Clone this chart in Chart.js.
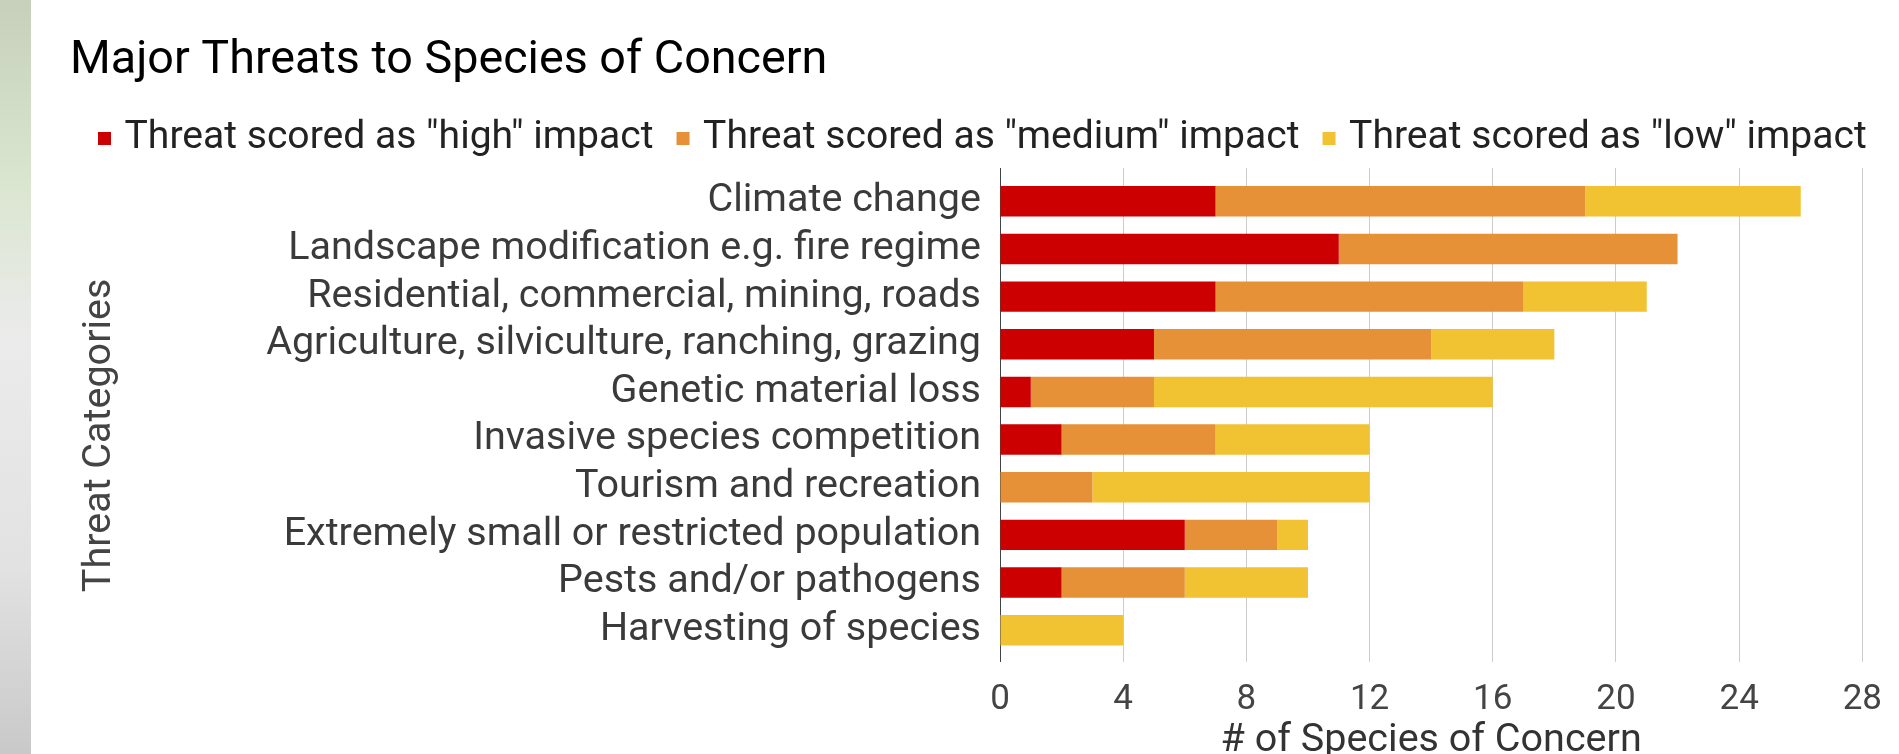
<!DOCTYPE html>
<html>
<head>
<meta charset="utf-8">
<script src="https://cdn.jsdelivr.net/npm/chart.js@4.4.1/dist/chart.umd.min.js"></script>
<style>
    body{ margin:0; background:#fff; }
    #wrap{ position:relative; width:1899px; height:754px; }
    #strip{
        position:absolute; left:0; top:0; width:31px; height:754px;
        background:linear-gradient(to bottom,#c6d0ba 0%,#dbe6d1 25%,#ebebeb 45%,#e2e2e2 75%,#c9c9c9 100%);
    }
</style>
</head>
<body>
<div id="wrap">
    <canvas id="chart" width="1899" height="754"></canvas>
    <div id="strip"></div>
</div>
<script>
// data
var categories = [
    "Climate change",
    "Landscape modification e.g. fire regime",
    "Residential, commercial, mining, roads",
    "Agriculture, silviculture, ranching, grazing",
    "Genetic material loss",
    "Invasive species competition",
    "Tourism and recreation",
    "Extremely small or restricted population",
    "Pests and/or pathogens",
    "Harvesting of species"
];
var highVals   = [7, 11, 7, 5, 1, 2, 0, 6, 2, 0];
var mediumVals = [12, 11, 10, 9, 4, 5, 3, 3, 4, 0];
var lowVals    = [7, 0, 4, 4, 11, 5, 9, 1, 4, 4];
var seriesNames = ['Threat scored as "high" impact', 'Threat scored as "medium" impact', 'Threat scored as "low" impact'];
var xMin = 0, xMax = 28, xStep = 4;

Chart.defaults.font.family = "Roboto";

var gridColor = function(c){ return (c.tick && c.tick.value === 0) ? "#444" : "#cccccc"; };

// move title / legend to where they sit in the picture
var nudge = {
    id: "nudge",
    afterLayout: function(chart){
        var t = chart.titleBlock;
        var dx = 70 - t.left;
        t.left += dx; t.right += dx;
        var l = chart.legend;
        var dl = 104 - (l.left + l.options.labels.padding);
        l.left += dl; l.right += dl;
    }
};

var graph = new Chart(document.getElementById("chart"), {
    type: "bar",
    data: {
        labels: categories,
        datasets: [
            { label: seriesNames[0], data: highVals,   backgroundColor: "#cc0000", borderWidth: 0 },
            { label: seriesNames[1], data: mediumVals, backgroundColor: "#e69138", borderWidth: 0 },
            { label: seriesNames[2], data: lowVals,    backgroundColor: "#f1c232", borderWidth: 0 }
        ]
    },
    options: {
        indexAxis: "y",
        responsive: false,
        animation: false,
        categoryPercentage: 1,
        barPercentage: 0.64,
        layout: { padding: { left: 0, right: 30, top: 0, bottom: 0 } },
        plugins: {
            title: {
                display: true,
                text: "Major Threats to Species of Concern",
                align: "start",
                color: "#000",
                font: { size: 46.7, weight: "normal" },
                padding: { top: 33, bottom: 1 }
            },
            legend: {
                display: true,
                align: "start",
                labels: {
                    color: "#222",
                    font: { size: 39.1 },
                    padding: 29,
                    boxWidth: 1,
                    boxHeight: 1,
                    generateLabels: function(chart){
                        var items = Chart.defaults.plugins.legend.labels.generateLabels(chart);
                        items.forEach(function(it){
                            it.lineWidth = 12;
                            it.strokeStyle = it.fillStyle;
                        });
                        return items;
                    }
                }
            },
            tooltip: { enabled: false }
        },
        scales: {
            x: {
                stacked: true,
                min: xMin, max: xMax,
                ticks: { stepSize: xStep, color: "#444", font: { size: 35 }, padding: 17 },
                grid: { color: gridColor, drawTicks: true, tickLength: 8, lineWidth: 1 },
                border: { display: false },
                title: {
                    display: true,
                    text: "# of Species of Concern",
                    color: "#333",
                    font: { size: 39.5 },
                    padding: { top: 0, bottom: -11 }
                },
                afterFit: function(s){ s.height = 100; }
            },
            x2: {
                type: "linear",
                position: "top",
                min: xMin, max: xMax,
                ticks: { display: false, stepSize: xStep },
                grid: { color: gridColor, drawOnChartArea: false, drawTicks: true, tickLength: 9.5 },
                border: { display: false },
                afterFit: function(s){
                    var c = s.chart;
                    s.height = 177.5 - (c.titleBlock.height + c.legend.height);
                }
            },
            y: {
                stacked: true,
                ticks: { color: "#3a3a3a", font: { size: 39.5 }, padding: 19, autoSkip: false },
                grid: { display: true, drawOnChartArea: false, drawTicks: false },
                border: { display: true, color: "#444", width: 1 },
                title: {
                    display: true,
                    text: "Threat Categories    ",
                    color: "#444",
                    font: { size: 39.5 },
                    padding: { top: 76, bottom: 0 }
                },
                afterFit: function(s){ s.width = 1000; }
            }
        }
    },
    plugins: [nudge]
});
</script>
</body>
</html>
